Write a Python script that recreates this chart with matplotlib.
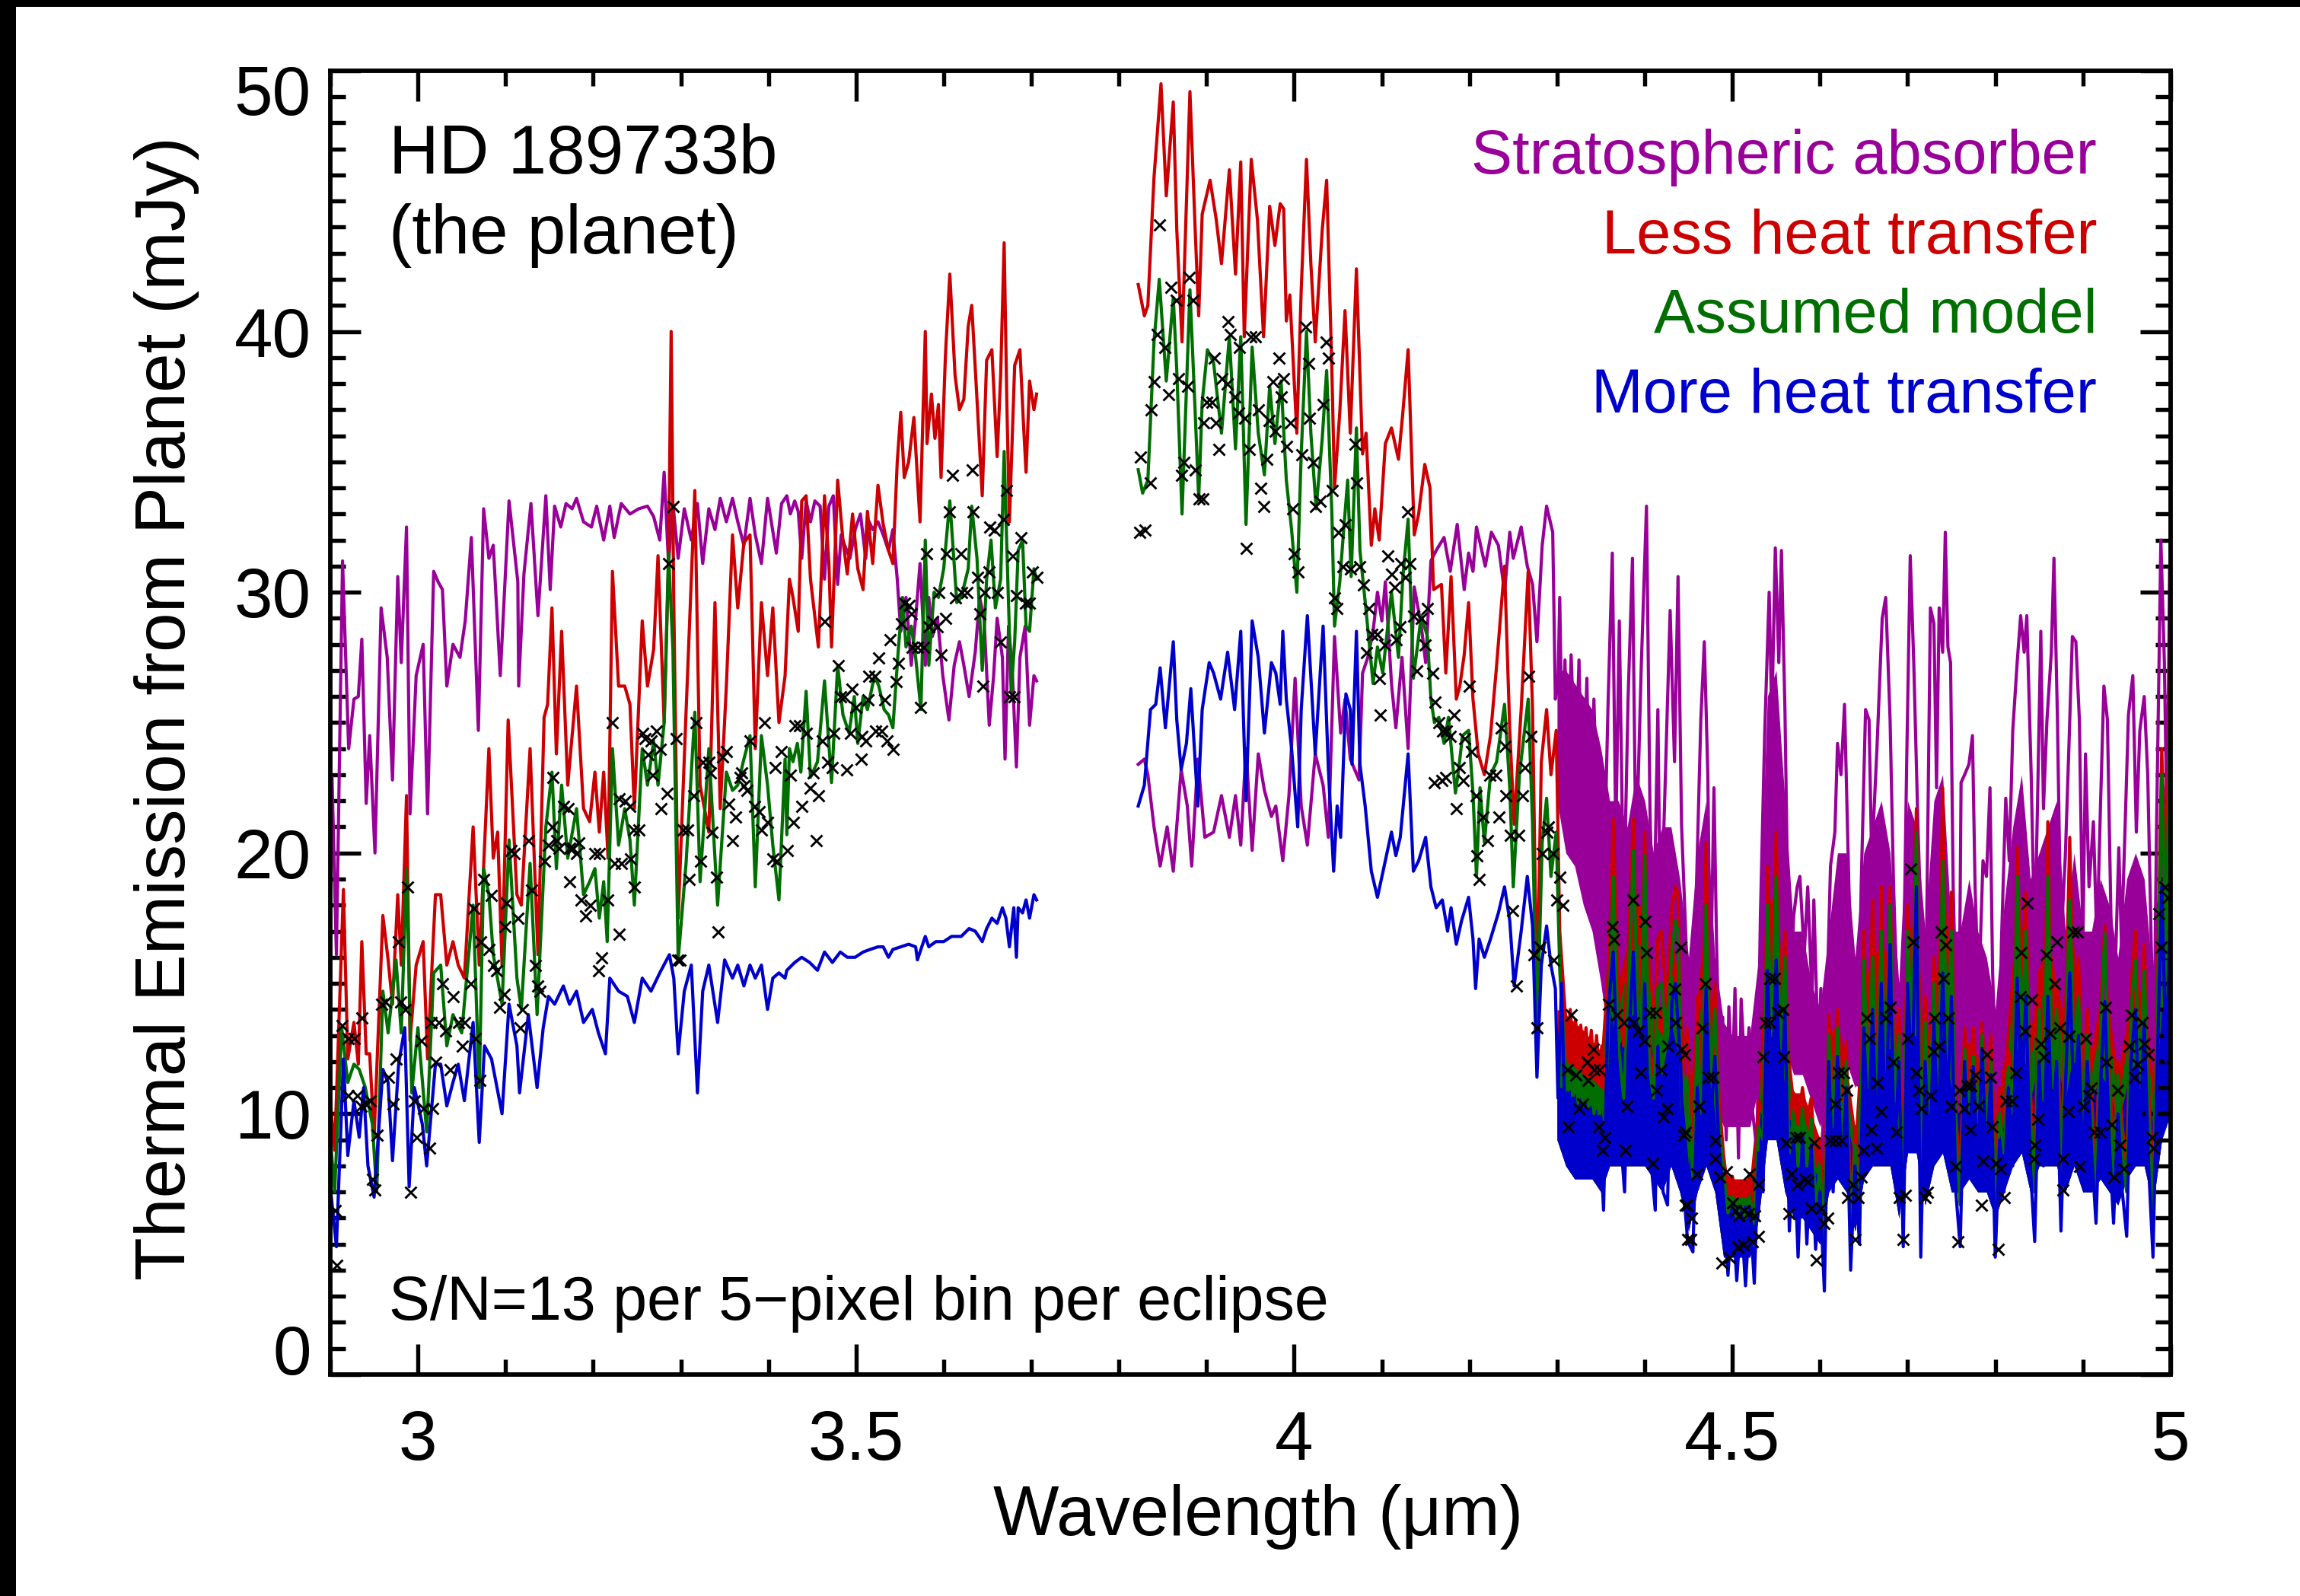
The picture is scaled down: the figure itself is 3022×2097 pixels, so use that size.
import matplotlib
matplotlib.use('Agg')
import matplotlib.pyplot as plt
import matplotlib.transforms as mtransforms
from matplotlib.patches import Rectangle
from matplotlib.ticker import MultipleLocator

plt.rcParams['font.family'] = ['Liberation Sans', 'DejaVu Sans']

# ---- model spectra: (wavelength um, flux mJy) ----
# short-wavelength segment (2.9 - 3.7 um)
strat_a = [(2.902,22.9),(2.907,16.1),(2.914,31.2),(2.921,24.0),(2.927,25.9),(2.932,26.0),(2.936,28.2),(2.941,21.9),
           (2.945,24.5),(2.951,20.0),(2.958,29.4),(2.965,27.5),(2.971,22.8),(2.977,30.6),(2.981,27.3),(2.987,32.5),
           (2.991,21.5),(2.998,26.8),(3.006,28.0),(3.011,21.5),(3.018,30.8),(3.023,30.4),(3.028,30.1),(3.033,26.4),
           (3.040,28.0),(3.048,27.5),(3.054,28.9),(3.061,32.1),(3.069,24.7),(3.075,33.2),(3.081,31.3),(3.086,31.8),
           (3.094,26.8),(3.104,33.5),(3.114,30.4),(3.115,26.4),(3.121,30.7),(3.129,33.4),(3.137,29.1),(3.146,33.7),
           (3.151,30.1),(3.156,33.3),(3.163,32.5),(3.169,33.4),(3.176,33.2),(3.181,33.6),(3.189,32.7),(3.198,32.5),
           (3.204,33.3),(3.212,32.0),(3.219,33.3),(3.224,32.1),(3.232,33.4),(3.242,33.0),(3.252,33.2),(3.262,33.3),
           (3.269,32.9),(3.276,32.0),(3.281,34.6),(3.286,31.1),(3.291,33.4),(3.297,31.3),(3.304,33.2),(3.312,32.0),
           (3.319,33.4),(3.325,31.1),(3.332,33.2),(3.339,32.4),(3.345,33.6),(3.352,32.7),(3.359,33.6),(3.365,32.7),
           (3.372,31.8),(3.379,33.6),(3.385,32.2),(3.392,31.1),(3.399,33.6),(3.409,31.5),(3.415,33.4),(3.421,33.7),
           (3.425,33.0),(3.430,33.5),(3.434,33.1),(3.438,31.3),(3.443,33.5),(3.448,32.7),(3.453,33.5),(3.459,33.3),
           (3.464,30.5),(3.469,33.3),(3.474,33.7),(3.479,30.3),(3.483,32.2),(3.487,31.8),(3.493,31.3),(3.499,32.4),
           (3.505,33.0),(3.511,31.3),(3.515,32.7),(3.519,32.4),(3.525,32.7),(3.531,32.2),(3.537,31.6),(3.542,32.4),
           (3.547,30.5),(3.551,28.5),(3.557,29.8),(3.563,27.2),(3.568,29.0),(3.573,31.1),(3.579,27.2),(3.583,29.8),
           (3.587,28.3),(3.593,29.0),(3.599,26.8),(3.606,25.1),(3.612,27.2),(3.618,28.1),(3.623,27.2),(3.629,26.0),
           (3.636,27.7),(3.641,29.8),(3.646,29.0),(3.652,24.9),(3.657,26.8),(3.661,29.0),(3.667,27.5),(3.670,23.6),
           (3.674,28.7),(3.678,27.2),(3.683,23.3),(3.687,27.5),(3.693,28.7),(3.698,24.9),(3.703,26.8),(3.706,26.6)]

less_a = [(2.900,10.5),(2.905,8.6),(2.915,18.6),(2.920,12.1),(2.927,13.5),(2.932,11.9),(2.936,16.6),(2.941,12.3),
          (2.945,12.3),(2.950,9.1),(2.960,17.6),(2.966,15.9),(2.971,14.2),(2.977,18.4),(2.981,15.7),(2.987,22.2),
          (2.991,12.8),(2.998,15.7),(3.006,16.6),(3.011,12.1),(3.020,18.4),(3.026,18.4),(3.033,15.7),(3.040,16.6),
          (3.046,15.7),(3.053,15.2),(3.063,21.0),(3.070,15.7),(3.081,24.0),(3.086,19.8),(3.091,20.8),(3.096,15.7),
          (3.103,25.1),(3.113,18.4),(3.118,18.0),(3.128,24.0),(3.137,16.1),(3.144,25.2),(3.148,25.7),(3.153,29.4),
          (3.158,23.8),(3.164,28.5),(3.171,22.6),(3.181,26.4),(3.189,21.7),(3.196,21.2),(3.202,23.1),(3.207,20.8),
          (3.212,23.1),(3.217,19.8),(3.222,30.8),(3.229,26.4),(3.236,26.4),(3.242,25.7),(3.247,21.7),(3.256,28.9),
          (3.262,26.4),(3.269,27.8),(3.274,31.4),(3.281,25.0),(3.286,31.1),(3.289,40.0),(3.292,29.6),(3.297,17.5),
          (3.306,25.4),(3.316,33.9),(3.322,22.6),(3.332,20.8),(3.339,29.6),(3.345,21.7),(3.352,26.4),(3.359,32.2),
          (3.365,29.4),(3.372,31.9),(3.379,32.2),(3.385,24.0),(3.392,29.6),(3.399,26.8),(3.405,29.4),(3.412,25.0),
          (3.419,26.8),(3.424,30.5),(3.428,29.8),(3.434,28.5),(3.438,33.5),(3.443,33.7),(3.448,30.5),(3.457,27.9),
          (3.464,33.7),(3.469,31.1),(3.472,27.9),(3.479,34.3),(3.485,32.0),(3.490,30.7),(3.496,33.0),(3.502,30.9),
          (3.508,30.1),(3.513,33.1),(3.519,31.1),(3.525,34.1),(3.531,32.6),(3.537,31.6),(3.542,31.1),(3.547,35.0),
          (3.551,36.9),(3.555,34.4),(3.560,35.0),(3.566,36.7),(3.573,32.7),(3.579,40.0),(3.581,35.7),(3.586,37.6),
          (3.590,35.9),(3.594,37.2),(3.597,34.4),(3.602,39.1),(3.607,42.2),(3.613,38.3),(3.618,37.0),(3.623,37.4),
          (3.628,40.2),(3.632,41.0),(3.638,37.4),(3.644,33.7),(3.649,38.9),(3.655,39.3),(3.661,35.2),(3.665,38.3),
          (3.669,43.4),(3.672,37.4),(3.675,32.7),(3.681,38.7),(3.687,39.3),(3.691,36.5),(3.694,34.6),(3.698,38.1),
          (3.703,37.0),(3.706,37.6)]

assumed_a = [(2.900,9.1),(2.905,7.0),(2.913,13.3),(2.920,11.2),(2.927,11.9),(2.933,11.7),(2.940,11.0),(2.948,9.6),
             (2.953,7.0),(2.960,14.7),(2.966,13.1),(2.975,15.9),(2.981,13.1),(2.987,19.4),(2.993,10.8),(3.000,13.3),
             (3.010,9.3),(3.018,15.4),(3.026,15.7),(3.033,12.6),(3.040,13.8),(3.050,13.1),(3.063,18.0),(3.070,11.0),
             (3.075,19.4),(3.081,18.4),(3.086,16.1),(3.096,14.2),(3.104,20.5),(3.113,15.2),(3.118,14.0),(3.128,19.6),
             (3.136,13.8),(3.146,21.0),(3.153,23.1),(3.158,19.4),(3.164,22.6),(3.171,19.8),(3.181,21.7),(3.189,18.4),
             (3.196,18.9),(3.202,19.4),(3.207,17.5),(3.212,18.9),(3.216,16.6),(3.222,24.0),(3.229,20.3),(3.236,21.7),
             (3.242,20.5),(3.247,18.0),(3.256,24.0),(3.262,22.6),(3.269,24.3),(3.274,22.6),(3.281,25.0),(3.286,31.5),
             (3.291,27.8),(3.297,15.9),(3.306,19.6),(3.316,25.4),(3.322,18.9),(3.332,24.0),(3.342,18.0),(3.352,23.1),
             (3.359,22.4),(3.365,22.6),(3.372,23.6),(3.379,24.5),(3.385,18.7),(3.392,24.5),(3.399,22.6),(3.405,20.3),
             (3.412,18.2),(3.419,23.6),(3.421,20.7),(3.424,24.0),(3.428,23.5),(3.433,24.2),(3.437,23.1),(3.443,26.2),
             (3.448,22.9),(3.456,23.5),(3.464,26.6),(3.472,22.7),(3.479,27.2),(3.485,25.3),(3.492,24.6),(3.498,26.0),
             (3.502,24.2),(3.508,26.0),(3.513,25.5),(3.521,26.8),(3.526,26.4),(3.532,25.5),(3.537,25.3),(3.542,24.8),
             (3.548,27.7),(3.553,29.8),(3.557,27.9),(3.563,28.7),(3.568,27.5),(3.574,25.5),(3.579,32.0),(3.583,27.2),
             (3.589,30.0),(3.594,29.8),(3.600,30.9),(3.607,33.5),(3.615,29.6),(3.620,29.8),(3.628,30.9),(3.632,33.3),
             (3.638,31.3),(3.644,27.0),(3.649,30.5),(3.654,32.0),(3.659,29.4),(3.665,30.5),(3.669,35.4),(3.672,31.8),
             (3.677,26.2),(3.681,28.1),(3.685,31.6),(3.690,32.0),(3.694,28.7),(3.698,28.5),(3.703,30.9),(3.706,30.5)]

more_a = [(2.900,7.2),(2.907,4.9),(2.915,12.1),(2.920,8.4),(2.927,10.5),(2.933,9.1),(2.938,11.0),(2.943,8.0),
          (2.950,6.8),(2.960,11.7),(2.966,11.2),(2.971,8.2),(2.978,11.9),(2.985,13.3),(2.990,7.2),(2.996,11.0),
          (3.005,9.6),(3.010,8.0),(3.020,11.9),(3.026,11.9),(3.033,10.3),(3.040,11.2),(3.046,11.9),(3.053,10.5),
          (3.063,13.5),(3.070,8.9),(3.076,12.6),(3.084,12.1),(3.096,10.0),(3.104,14.2),(3.113,12.6),(3.116,10.8),
          (3.126,13.8),(3.136,11.0),(3.143,13.3),(3.149,14.5),(3.156,14.2),(3.166,14.9),(3.173,14.2),(3.181,14.7),
          (3.189,13.5),(3.199,14.0),(3.206,13.1),(3.214,12.3),(3.219,15.2),(3.229,14.7),(3.239,14.5),(3.247,13.5),
          (3.256,15.2),(3.266,14.7),(3.276,15.4),(3.287,16.1),(3.292,15.2),(3.297,12.3),(3.304,14.7),(3.312,15.7),
          (3.319,10.8),(3.325,14.7),(3.332,15.7),(3.342,13.5),(3.350,15.9),(3.359,15.2),(3.365,15.7),(3.372,14.9),
          (3.379,15.7),(3.385,15.2),(3.392,15.7),(3.399,14.0),(3.405,15.2),(3.412,15.4),(3.419,15.2),(3.421,15.5),
          (3.430,15.8),(3.438,16.0),(3.447,15.8),(3.456,15.5),(3.464,16.2),(3.473,15.8),(3.482,16.2),(3.490,16.0),
          (3.499,16.0),(3.508,16.2),(3.516,16.3),(3.525,16.4),(3.531,16.4),(3.537,16.0),(3.542,16.3),(3.551,16.4),
          (3.560,16.5),(3.568,16.4),(3.570,15.9),(3.579,16.8),(3.583,16.4),(3.591,16.6),(3.600,16.6),(3.609,16.8),
          (3.620,16.8),(3.629,17.1),(3.636,17.0),(3.644,16.6),(3.649,17.1),(3.655,17.5),(3.661,17.3),(3.667,17.9),
          (3.671,17.5),(3.675,16.4),(3.680,17.9),(3.683,16.0),(3.685,17.9),(3.690,17.7),(3.694,18.2),(3.698,17.5),
          (3.703,18.4),(3.706,18.2)]

# long-wavelength segment (3.82 - 5.0 um)
strat_b = [(3.822,23.4),(3.829,23.6),(3.833,23.0),(3.840,21.0),(3.847,19.5),(3.855,21.0),(3.862,19.3),(3.871,23.2),
           (3.878,21.8),(3.883,19.5),(3.890,23.6),(3.898,20.6),(3.908,20.8),(3.917,22.2),(3.926,20.6),(3.933,22.2),
           (3.939,20.3),(3.945,24.0),(3.952,20.1),(3.959,23.8),(3.966,22.4),(3.974,21.4),(3.979,21.8),(3.987,19.7),
           (3.994,22.2),(4.001,26.7),(4.008,21.8),(4.015,20.3),(4.024,23.8),(4.033,22.6),(4.039,20.6),(4.046,28.3),
           (4.053,24.6),(4.058,25.9),(4.064,23.6),(4.069,23.2),(4.074,22.8),(4.078,26.9),(4.084,27.5),(4.090,28.5),
           (4.095,30.0),(4.100,28.9),(4.104,30.4),(4.111,26.5),(4.116,24.8),(4.123,27.5),(4.130,24.0),(4.137,30.2),
           (4.145,28.7),(4.150,27.3),(4.156,31.2),(4.162,31.6),(4.171,32.1),(4.178,30.8),(4.186,32.6),(4.194,30.1),
           (4.199,31.5),(4.204,30.8),(4.208,32.5),(4.218,31.0),(4.225,32.3),(4.233,31.8),(4.240,30.0),(4.246,32.3),
           (4.250,31.3),(4.259,32.5),(4.266,31.0),(4.272,30.3),(4.277,28.1),(4.283,31.8),(4.288,33.3),(4.295,32.3),
           (4.298,25.9),(4.301,26.4),(4.303,29.8),(4.306,23.5),(4.309,27.4),(4.312,22.3),(4.316,27.6),(4.321,23.0),
           (4.325,27.4),(4.329,21.1),(4.334,26.7),(4.338,19.1),(4.342,25.9),(4.347,19.6),(4.353,18.2),(4.358,25.5),
           (4.363,31.5),(4.367,20.6),(4.371,28.9),(4.376,17.7),(4.381,25.9),(4.386,31.3),(4.390,19.6),(4.396,27.1),
           (4.402,33.3),(4.406,21.6),(4.410,16.2),(4.415,25.5),(4.418,16.7),(4.423,22.3),(4.429,29.3),(4.434,23.5),
           (4.438,30.6),(4.442,21.1),(4.447,16.7),(4.450,10.1),(4.455,15.0),(4.459,18.7),(4.464,25.1),(4.468,28.1),
           (4.472,23.0),(4.475,14.4),(4.479,22.5),(4.482,16.5),(4.485,12.2),(4.489,13.7),(4.493,9.0),(4.496,14.1),
           (4.500,11.1),(4.503,14.8),(4.507,8.3),(4.510,14.4),(4.515,11.1),(4.519,13.3),(4.523,10.1),(4.528,8.6),
           (4.532,17.6),(4.537,24.7),(4.542,30.0),(4.545,25.1),(4.549,31.7),(4.553,27.3),(4.556,31.6),(4.560,25.5),
           (4.563,18.7),(4.566,14.4),(4.570,17.6),(4.574,18.7),(4.577,19.1),(4.582,16.1),(4.586,18.7),(4.591,14.4),
           (4.593,18.2),(4.598,12.2),(4.601,14.8),(4.604,7.9),(4.608,14.4),(4.612,19.5),(4.617,20.8),(4.620,24.2),
           (4.624,23.0),(4.628,25.7),(4.633,18.7),(4.637,14.4),(4.643,11.1),(4.647,18.7),(4.652,25.5),(4.656,25.1),
           (4.659,19.7),(4.665,24.0),(4.671,29.0),(4.675,29.8),(4.680,25.1),(4.684,18.7),(4.688,14.4),(4.693,10.1),
           (4.699,23.6),(4.703,31.4),(4.707,27.3),(4.712,20.8),(4.716,16.5),(4.720,12.2),(4.726,29.4),(4.730,28.8),
           (4.733,22.5),(4.736,29.4),(4.740,27.7),(4.743,32.3),(4.746,27.9),(4.749,27.3),(4.752,18.7),(4.755,14.4),
           (4.758,10.1),(4.761,22.7),(4.765,23.0),(4.770,23.4),(4.774,24.5),(4.777,18.7),(4.781,14.4),(4.786,19.7),
           (4.790,19.1),(4.794,22.5),(4.797,15.4),(4.800,12.2),(4.804,9.6),(4.807,16.5),(4.812,22.1),(4.816,19.7),
           (4.820,24.7),(4.825,27.3),(4.829,29.1),(4.833,27.7),(4.836,29.1),(4.841,23.0),(4.845,16.5),(4.848,21.5),
           (4.852,28.5),(4.855,21.7),(4.859,25.1),(4.864,27.7),(4.867,31.3),(4.871,25.1),(4.875,16.5),(4.880,19.9),
           (4.884,24.0),(4.888,28.3),(4.892,28.1),(4.896,25.1),(4.900,16.5),(4.903,23.8),(4.907,18.7),(4.912,21.2),
           (4.916,16.5),(4.920,21.7),(4.924,26.4),(4.928,25.1),(4.932,17.6),(4.936,14.4),(4.941,20.2),(4.944,16.5),
           (4.948,20.8),(4.952,25.3),(4.957,26.8),(4.961,20.8),(4.965,24.7),(4.970,26.0),(4.974,23.0),(4.978,16.5),
           (4.981,12.2),(4.984,20.8),(4.989,32.0),(4.993,27.3),(4.996,20.8),(4.999,31.0)]

less_b = [(3.822,41.8),(3.829,40.6),(3.833,41.0),(3.840,45.9),(3.848,49.5),(3.854,45.2),(3.862,48.8),(3.866,43.9),
          (3.872,39.6),(3.881,49.2),(3.887,43.9),(3.891,40.6),(3.895,44.5),(3.904,45.8),(3.911,44.3),(3.917,42.6),
          (3.926,46.2),(3.933,42.2),(3.939,46.5),(3.943,39.8),(3.951,46.6),(3.958,44.3),(3.965,39.8),(3.972,44.8),
          (3.978,43.3),(3.984,44.9),(3.988,44.7),(3.991,40.4),(3.995,41.4),(4.003,36.1),(4.008,41.6),(4.014,46.6),
          (4.019,42.6),(4.024,39.6),(4.032,43.9),(4.037,45.8),(4.043,38.5),(4.046,34.0),(4.052,36.9),(4.058,40.8),
          (4.064,36.1),(4.071,42.4),(4.078,35.3),(4.082,36.1),(4.088,31.8),(4.092,33.2),(4.097,32.0),(4.104,35.7),
          (4.111,36.3),(4.119,35.1),(4.124,36.9),(4.130,39.3),(4.137,32.2),(4.142,33.0),(4.149,34.9),(4.155,34.0),
          (4.159,30.1),(4.168,30.3),(4.173,26.9),(4.179,30.6),(4.185,25.9),(4.189,26.4),(4.194,27.6),(4.199,29.6),
          (4.204,25.9),(4.210,23.8),(4.217,23.0),(4.224,24.5),(4.231,27.2),(4.240,31.0),(4.246,24.7),(4.251,21.1),
          (4.259,25.5),(4.267,30.8),(4.272,25.5),(4.277,14.3),(4.282,23.5),(4.288,25.5),(4.293,23.0),(4.299,24.7),
          (4.303,17.0),(4.309,14.0),(4.312,12.8),(4.315,14.0),(4.318,12.6),(4.321,13.6),(4.324,12.4),(4.327,13.4),
          (4.330,12.2),(4.333,13.3),(4.336,12.0),(4.339,13.2),(4.342,11.8),(4.345,13.0),(4.348,11.6),(4.351,12.6),
          (4.354,10.2),(4.358,14.3),(4.364,21.3),(4.370,14.3),(4.376,12.6),(4.381,16.2),(4.387,21.3),(4.392,14.3),
          (4.396,15.0),(4.400,20.8),(4.405,12.6),(4.410,11.4),(4.415,16.7),(4.419,17.0),(4.425,14.3),(4.431,17.9),
          (4.435,18.7),(4.438,18.4),(4.442,11.4),(4.448,13.3)]

assumed_b = [(3.822,34.7),(3.827,33.8),(3.833,34.3),(3.840,39.6),(3.846,42.0),(3.854,38.1),(3.862,41.3),(3.866,38.5),
             (3.872,33.0),(3.881,41.6),(3.887,36.9),(3.891,33.6),(3.895,37.3),(3.901,39.3),(3.908,38.8),(3.917,36.1),
             (3.926,39.8),(3.933,35.5),(3.939,39.8),(3.945,32.6),(3.952,39.4),(3.959,36.1),(3.966,34.5),(3.972,37.9),
             (3.978,35.7),(3.985,38.1),(3.991,34.3),(3.997,32.4),(4.003,30.0),(4.008,35.3),(4.014,40.0),(4.019,36.1),
             (4.025,33.2),(4.032,35.9),(4.037,38.5),(4.043,33.0),(4.046,28.7),(4.052,30.4),(4.056,32.2),(4.061,34.3),
             (4.065,30.6),(4.071,36.3),(4.075,31.6),(4.082,29.3),(4.090,26.5),(4.095,27.9),(4.101,26.9),(4.111,30.0),
             (4.119,27.5),(4.124,30.6),(4.130,32.8),(4.136,26.7),(4.145,29.1),(4.152,28.3),(4.156,25.9),(4.160,25.0),
             (4.165,25.2),(4.171,24.2),(4.176,25.2),(4.184,22.3),(4.188,23.3),(4.192,24.5),(4.199,24.7),(4.204,22.3),
             (4.208,19.1),(4.212,22.5),(4.217,20.4),(4.224,23.0),(4.231,23.5),(4.240,25.7),(4.246,22.5),(4.250,18.7),
             (4.257,23.0),(4.267,25.9),(4.272,21.1),(4.277,12.8),(4.283,20.4),(4.288,22.1),(4.293,19.1),(4.299,20.8),
             (4.303,15.5),(4.309,12.1),(4.312,10.8),(4.315,11.8),(4.318,10.6),(4.321,11.6),(4.324,10.4),(4.327,11.4),
             (4.330,10.3),(4.333,11.3),(4.336,10.2),(4.339,11.2),(4.342,10.0),(4.345,11.0),(4.348,9.9),(4.351,10.9),
             (4.354,9.7),(4.358,12.6),(4.364,19.1),(4.370,12.6),(4.376,10.6),(4.381,14.3),(4.387,20.1),(4.392,13.8),
             (4.396,13.3),(4.400,19.9),(4.405,11.9),(4.410,10.6),(4.415,14.8),(4.419,15.0),(4.425,12.8),(4.431,16.2),
             (4.435,17.4),(4.438,17.0),(4.442,10.2),(4.448,11.4)]

more_b = [(3.822,21.8),(3.829,22.6),(3.836,25.5),(3.842,25.7),(3.847,27.1),(3.853,24.8),(3.862,28.1),(3.866,25.1),
          (3.871,23.2),(3.877,24.2),(3.882,26.3),(3.890,21.8),(3.895,25.5),(3.903,27.3),(3.908,26.9),(3.916,25.9),
          (3.924,27.7),(3.932,25.5),(3.939,28.5),(3.945,22.0),(3.952,28.9),(3.959,27.5),(3.966,24.6),(3.974,27.3),
          (3.979,26.9),(3.984,25.7),(3.987,28.5),(3.991,25.9),(3.997,24.0),(4.004,21.0),(4.008,25.5),(4.015,29.1),
          (4.024,23.8),(4.033,28.7),(4.039,23.2),(4.045,19.3),(4.049,21.8),(4.053,20.6),(4.059,26.1),(4.064,25.5),
          (4.066,23.4),(4.071,28.5),(4.075,23.4),(4.081,21.8),(4.088,19.3),(4.095,18.3),(4.104,19.7),(4.111,20.8),
          (4.116,19.9),(4.121,20.6),(4.130,23.8),(4.136,19.3),(4.142,19.7),(4.150,20.6),(4.156,18.7),(4.162,17.9),
          (4.169,18.2),(4.175,17.0),(4.179,17.9),(4.185,16.5),(4.191,17.4),(4.199,18.3),(4.204,16.7),(4.207,14.8),
          (4.211,16.7),(4.217,16.0),(4.224,16.7),(4.233,17.7),(4.240,18.7),(4.246,17.4),(4.251,14.9),(4.259,17.0),
          (4.266,19.1),(4.272,17.2),(4.277,11.4),(4.282,15.7),(4.288,17.2),(4.293,15.7),(4.298,14.8),(4.301,10.6),
          (4.305,15.0),(4.309,9.7),(4.312,10.8),(4.314,8.5),(4.318,10.6),(4.322,8.2),(4.327,10.4),(4.332,7.7),
          (4.338,10.2),(4.344,7.5),(4.348,9.9),(4.353,6.3),(4.358,13.8),(4.364,16.2),(4.370,10.2),(4.377,7.0),
          (4.381,12.3),(4.387,16.2),(4.392,11.4),(4.396,10.2),(4.400,15.0),(4.405,9.0),(4.412,6.3),(4.415,12.6),
          (4.421,7.0),(4.426,6.5),(4.431,14.3),(4.435,15.0),(4.441,11.9),(4.445,6.8),(4.449,5.1)]

# CO band region, line peaks/troughs: wavelength, more heat, assumed, less heat
band_rows = [(4.455,4.7,7.5,8.5),(4.460,11.0,13.0,14.5),(4.465,8.0,10.0,11.0),(4.470,14.8,18.0,20.4),
             (4.475,9.5,11.0,12.0),(4.480,12.2,14.0,15.0),(4.485,8.6,9.5,10.5),(4.490,6.8,7.8,8.4),
             (4.495,3.8,6.2,7.0),(4.500,6.5,6.8,7.6),(4.505,3.6,6.0,6.8),(4.510,6.2,6.6,7.4),
             (4.515,3.4,6.0,6.9),(4.520,6.4,6.8,7.7),(4.525,3.5,5.8,6.5),(4.530,8.5,9.5,10.5),
             (4.535,7.0,9.0,10.0),(4.540,15.5,18.0,19.5),(4.545,10.5,13.0,14.0),(4.550,15.9,19.1,20.8),
             (4.555,10.0,12.5,13.5),(4.560,14.0,16.0,17.0),(4.565,5.5,8.5,9.8),(4.570,9.0,10.0,10.8),
             (4.575,4.5,8.0,9.6),(4.580,9.2,10.2,11.0),(4.585,5.0,8.0,9.8),(4.590,8.8,9.8,10.6),
             (4.595,4.8,6.5,8.0),(4.600,7.0,8.0,9.0),(4.605,3.2,5.0,6.0),(4.610,12.0,13.0,13.8),
             (4.615,7.0,9.5,10.5),(4.620,12.2,13.3,14.0),(4.625,7.5,9.0,10.0),(4.630,11.0,12.0,12.8),
             (4.635,4.0,5.0,6.0),(4.640,8.0,8.8,9.5),(4.645,5.0,6.5,7.5),(4.650,13.3,15.9,17.0),
             (4.655,9.0,11.0,12.0),(4.660,14.0,16.0,18.2),(4.665,8.5,10.0,11.0),(4.670,15.0,17.0,18.7),
             (4.675,9.0,11.0,12.0),(4.680,16.5,18.0,18.7),(4.685,8.0,10.5,11.5),(4.690,12.0,13.0,14.0),
             (4.695,4.9,6.5,7.5),(4.700,15.0,17.0,18.0),(4.705,11.0,13.0,14.0),(4.710,18.7,20.8,21.7),
             (4.715,4.5,7.5,9.0),(4.720,12.0,13.5,14.5),(4.725,8.0,10.0,11.0),(4.730,13.5,15.0,16.0),
             (4.735,9.0,11.0,12.0),(4.740,15.4,19.7,22.5),(4.745,10.0,12.5,14.0),(4.750,14.5,17.0,18.5),
             (4.755,7.0,9.0,10.0),(4.760,4.9,6.5,7.5),(4.765,12.0,12.5,13.3),(4.770,8.5,10.0,11.0),
             (4.775,11.8,12.2,13.3),(4.780,8.0,9.5,10.5),(4.785,12.5,13.0,13.5),(4.790,8.0,9.5,10.5),
             (4.795,11.5,12.0,13.0),(4.800,4.5,6.0,7.5),(4.805,9.0,10.0,11.0),(4.810,7.0,8.5,9.5),
             (4.815,11.0,11.8,12.5),(4.820,8.0,10.0,11.0),(4.825,15.2,19.1,20.2),(4.830,10.5,13.0,14.5),
             (4.835,14.5,17.0,18.5),(4.840,8.0,10.0,11.0),(4.845,5.1,7.0,8.0),(4.850,12.0,14.0,15.5),
             (4.855,8.0,10.5,11.5),(4.860,14.5,19.1,21.2),(4.865,9.0,11.0,12.0),(4.870,12.0,14.0,15.0),
             (4.875,5.5,7.0,8.0),(4.880,11.0,12.5,13.5),(4.885,15.4,18.2,20.6),(4.890,10.0,12.0,13.0),
             (4.895,13.0,14.5,16.0),(4.900,8.0,9.5,10.5),(4.905,12.0,13.0,14.0),(4.910,8.5,9.5,10.5),
             (4.915,5.8,7.0,8.0),(4.920,11.0,13.0,14.0),(4.925,14.3,16.9,17.2),(4.930,9.0,11.0,12.0),
             (4.935,5.8,7.5,8.5),(4.940,10.0,11.5,12.0),(4.945,7.0,8.5,9.5),(4.950,5.3,7.0,8.0),
             (4.955,12.0,14.0,15.0),(4.960,14.0,15.9,17.0),(4.965,9.0,11.0,12.0),(4.970,13.5,15.5,16.5),
             (4.975,8.0,10.0,11.0),(4.980,4.5,6.0,7.0),(4.985,12.0,14.0,15.0),(4.990,18.7,23.0,24.0),
             (4.995,12.0,16.0,18.0),(5.000,18.0,27.0,29.0)]

# where the lines are too dense to resolve they form solid bands:
# wavelength, stratospheric low/high, more-heat low/high, assumed high, less-heat high
band_core = [(4.30,22,27,9,11,12.5,14),(4.31,20,27,8,11,12,13.8),(4.32,19.5,26.5,7.5,10.8,11.8,13.5),
             (4.33,18,26,7.5,10.5,11.5,13.2),(4.34,17,25.5,7.5,10.3,11.3,12.8),(4.35,15,24,7,10,11,12.4),
             (4.36,12.5,22,8,14,16,17.5),(4.37,12,22,8,12.5,14,15),(4.38,12.5,21,8,13.5,15.5,16.5),
             (4.39,12.5,23,8,14,16.5,18),(4.40,12,22,8,14,16.5,18),(4.41,11.5,20,7.5,12,13.5,14.5),
             (4.42,12,21,7,11.5,13,14),(4.43,11,21,8,13.5,15.5,17),(4.44,10,19,7,12,14,15),
             (4.45,10.5,16,5.5,8,9,10),(4.46,10,20,7,11,13,14.5),(4.47,11,22,8,13,16,18),
             (4.48,10.5,16,7,10,11.5,12.5),(4.49,9.5,13.5,4.5,6.5,7,7.8),(4.50,9.5,13,4.5,6.5,6.8,7.5),
             (4.51,9.5,13,4.5,6.5,6.8,7.5),(4.52,9.5,13,4.5,6.5,6.8,7.5),(4.53,11,16,6,9,10,11),
             (4.54,14,26,9,14,16.5,18),(4.55,14,27,9,14,17,18.5),(4.56,12.5,22,7,11,13,14),
             (4.57,11.5,17,6,9,10,10.8),(4.58,11.5,17,6,9,10,10.8),(4.59,10.5,15,5.5,8,9,10),
             (4.60,9.5,14,5,7.5,8,9),(4.61,11,17,7,10.5,12,13),(4.62,13,20,7.5,11,12.5,13.5),
             (4.63,12,20,7,10,11,12),(4.64,11,16,5.5,8,8.8,9.5),(4.65,12,20,7.5,11,13.5,15),
             (4.66,13,21,8,12,14,16),(4.67,13,22,8,12.5,15,16.5),(4.68,12,20,8,12.5,15,16),
             (4.69,11,15,6,9,10,11),(4.70,12,22,8.5,13,15.5,17),(4.71,12,21,8.5,13,16,17.5),
             (4.72,11,17,6.5,10,11.5,12.5),(4.73,13,22,8,12,13.5,14.5),(4.74,13,23,8.5,13,16.5,18.5),
             (4.75,11.5,17,7,11,13,14.5),(4.76,11,17,7,10,11,12),(4.77,12,19,7.5,11,11.8,12.8),
             (4.78,11,17,7,10.5,11.3,12.2),(4.79,11,16,7,10,10.8,11.8),(4.80,10,14,6,9,9.8,10.8),
             (4.81,11,18,7,10,11,12),(4.82,12.5,21,8,12,14.5,16),(4.83,13,23,8.5,13,16,17.5),
             (4.84,12,19,7,10.5,12,13),(4.85,12,20,8,12,14,15.5),(4.86,12.5,21,8,12.5,15.5,17),
             (4.87,12.5,22,8,12,14,15),(4.88,11.5,17,7,10.5,12,13.5),(4.89,12,20,8,12.5,15,16.5),
             (4.90,11.5,17,7,10.5,11.5,12.5),(4.91,11,17,7,10.5,11.5,12.5),(4.92,11.5,19,7.5,11.5,13.5,14.5),
             (4.93,11,18,7,11,13,14),(4.94,10.5,16,6.5,9.5,10.5,11.5),(4.95,12,19,7.5,11,12.5,13.5),
             (4.96,12,20,8,12,14,15),(4.97,12,19,8,12,13.5,14.5),(4.98,10,15,6.5,9.5,10.5,11.5),
             (4.99,13,22,9,14,17,18),(5.00,14,24,10,15,19,21)]

# simulated observations (x marks)
obs = [(2.907,4.2),(2.905,6.3),(2.913,13.4),(2.920,12.9),(2.927,12.9),(2.920,10.7),(2.930,10.7),(2.935,10.3),
       (2.940,10.4),(2.945,10.5),(2.936,13.7),(2.948,7.5),(2.950,7.1),(2.953,9.2),(2.958,14.2),(2.963,14.3),
       (2.971,10.4),(2.975,12.1),(2.966,11.4),(2.977,16.6),(2.980,14.3),(2.985,14.0),(2.988,18.7),(2.991,7.0),
       (2.996,10.5),(2.998,9.1),(3.003,12.8),(3.006,10.2),(3.013,8.7),(3.016,10.2),(3.015,13.5),(3.020,12.0),
       (3.023,13.5),(3.028,15.0),(3.031,13.2),(3.036,11.7),(3.040,14.5),(3.046,13.5),(3.053,13.5),(3.050,12.6),
       (3.060,15.0),(3.063,17.9),(3.065,12.9),(3.070,11.3),(3.071,16.6),(3.075,19.0),(3.083,18.4),(3.081,16.3),
       (3.086,15.7),(3.089,15.5),(3.093,14.1),(3.098,14.6),(3.099,17.2),(3.101,18.1),(3.106,20.1),(3.109,20.0),
       (3.114,17.5),(3.116,13.3),(3.119,14.0),(3.126,20.5),(3.129,18.6),(3.134,15.7),(3.136,14.9),(3.139,14.7),
       (3.144,19.7),(3.148,20.3),(3.153,21.0),(3.154,22.9),(3.158,20.5),(3.161,20.2),(3.166,21.8),(3.171,21.7),
       (3.173,20.2),(3.176,20.2),(3.183,20.4),(3.181,20.0),(3.173,18.9),(3.186,18.2),(3.191,17.6),(3.196,18.0),
       (3.201,20.0),(3.207,20.0),(3.216,18.2),(3.209,16.0),(3.206,15.5),(3.221,25.0),(3.224,19.6),(3.229,16.9),
       (3.229,22.1),(3.232,19.6),(3.236,22.0),(3.241,21.8),(3.242,19.8),(3.246,20.9),(3.247,18.7),(3.252,20.9),
       (3.256,24.6),(3.259,24.4),(3.262,23.8),(3.266,24.3),(3.267,23.0),(3.272,24.7),(3.276,24.0),(3.277,21.7),
       (3.284,22.3),(3.286,31.1),(3.291,33.3),(3.294,24.4),(3.296,15.9),(3.299,15.9),(3.302,20.9),(3.307,20.9),
       (3.309,19.0),(3.314,22.2),(3.317,25.0),(3.322,19.7),(3.325,23.5),(3.332,23.5),(3.333,23.1),(3.335,20.8),
       (3.340,19.1),(3.342,17.0),(3.347,23.7),(3.352,23.9),(3.354,21.9),(3.359,20.5),(3.362,21.4),(3.367,22.9),
       (3.369,23.1),(3.372,22.6),(3.375,22.4),(3.379,24.3),(3.384,21.8),(3.389,21.6),(3.392,20.9),(3.395,25.0),
       (3.399,21.2),(3.405,19.8),(3.407,23.3),(3.409,19.7),(3.414,23.9),
       (3.421,20.1),(3.428,21.2),(3.438,21.8),(3.447,22.5),(3.454,20.5),(3.457,22.2),(3.451,23.1),(3.425,23.0),
       (3.430,24.9),(3.435,24.9),(3.443,24.6),(3.461,24.3),(3.464,28.9),(3.467,23.5),(3.472,23.3),(3.474,24.6),
       (3.479,27.2),(3.482,26.0),(3.486,26.0),(3.489,23.2),(3.495,26.3),(3.499,25.6),(3.493,24.6),(3.506,24.5),
       (3.505,23.6),(3.511,24.3),(3.513,25.9),(3.514,26.8),(3.521,26.8),(3.522,24.7),(3.525,27.5),(3.529,24.7),
       (3.532,25.9),(3.535,24.3),(3.538,28.2),(3.542,24.0),(3.545,26.6),(3.548,27.3),(3.551,28.8),(3.555,29.6),
       (3.560,29.5),(3.563,29.2),(3.564,27.9),(3.570,27.9),(3.573,25.6),(3.577,27.9),(3.580,31.5),(3.583,28.7),
       (3.587,28.9),(3.592,28.7),(3.594,30.0),(3.597,27.6),(3.602,29.0),(3.606,33.1),(3.610,34.5),(3.603,31.5),
       (3.613,29.8),(3.619,31.5),(3.620,30.0),(3.626,30.0),(3.632,34.7),(3.633,33.1),(3.638,30.6),(3.641,29.2),
       (3.644,26.4),(3.646,30.0),(3.651,30.8),(3.652,32.5),(3.657,32.4),(3.661,30.0),(3.664,28.1),(3.668,32.8),
       (3.671,33.9),(3.675,26.0),(3.680,26.0),(3.678,31.4),(3.683,29.9),(3.688,32.1),(3.693,29.6),(3.697,29.6),
       (3.701,30.8),(3.706,30.6),
       (3.823,32.3),(3.829,32.4),(3.824,35.2),(3.835,34.2),(3.836,37.0),(3.840,38.1),(3.843,39.9),(3.846,44.1),
       (3.852,39.4),(3.856,37.6),(3.859,41.7),(3.865,41.2),(3.868,38.2),(3.871,34.5),(3.874,35.0),(3.878,37.9),
       (3.880,42.1),(3.884,41.2),(3.887,34.7),(3.891,33.6),(3.895,33.6),(3.896,36.5),(3.900,37.3),(3.906,37.3),
       (3.908,39.0),(3.910,36.5),(3.914,35.5),(3.917,38.2),(3.923,38.0),(3.924,40.4),(3.927,39.9),(3.932,37.5),
       (3.936,36.9),(3.937,39.4),(3.943,36.7),(3.945,31.7),(3.948,35.5),(3.950,39.8),(3.955,39.8),(3.959,37.0),
       (3.961,34.0),(3.965,33.3),(3.968,35.1),(3.971,36.6),(3.975,38.1),(3.978,36.2),(3.982,39.0),(3.987,38.2),
       (3.985,37.5),(3.991,35.6),(3.995,36.5),(3.998,33.2),(4.000,31.5),(4.004,30.8),(4.008,35.3),(4.013,40.2),
       (4.016,38.8),(4.017,36.7),(4.021,35.0),(4.024,33.3),(4.029,33.5),(4.033,37.2),(4.036,39.6),(4.039,39.0),
       (4.043,33.9),(4.046,29.8),(4.048,29.4),(4.050,32.3),(4.055,31.0),(4.058,32.6),(4.064,30.9),(4.069,35.7),
       (4.071,34.2),(4.074,31.0),(4.079,30.3),(4.082,27.7),(4.085,29.4),(4.088,28.4),(4.094,28.4),(4.097,26.7),
       (4.098,25.3),(4.103,28.0),(4.106,31.4),(4.111,30.7),(4.114,30.2),(4.116,28.2),(4.120,28.7),(4.121,31.1),
       (4.126,30.6),(4.129,33.1),(4.132,31.1),(4.136,29.1),(4.139,27.0),(4.145,29.0),(4.149,28.0),(4.152,29.4),
       (4.158,26.9),(4.160,25.8),(4.165,25.0),(4.169,24.7),(4.173,24.7),(4.178,24.5),(4.182,25.3),(4.188,23.3),
       (4.192,22.8),(4.185,21.7),(4.194,24.4),(4.199,26.4),(4.202,23.9),(4.207,22.2),(4.208,19.9),(4.211,19.0),
       (4.215,21.4),(4.220,20.5),(4.223,23.0),(4.230,23.0),(4.233,21.4),(4.236,24.8),(4.240,24.1),(4.241,22.2),
       (4.246,20.7),(4.256,20.7),(4.249,17.8),(4.253,14.9),(4.260,22.2),(4.263,23.3),(4.267,26.8),(4.270,24.5),
       (4.159,22.7),(4.168,22.8),(4.172,22.9),(4.273,16.1),(4.277,13.3),(4.280,16.4),(4.283,20.0),(4.288,20.8),
       (4.290,21.0),(4.295,20.0),(4.296,15.9),(4.299,18.2),(4.303,19.1),(4.306,18.0),(4.311,11.7),(4.312,9.5),
       (4.316,13.8),(4.321,11.5),(4.324,10.2),(4.329,10.4),(4.335,11.3),(4.341,12.5),(4.334,12.0),(4.342,11.7),
       (4.347,9.5),(4.348,11.7),(4.351,8.6),(4.354,9.1),(4.358,14.2),(4.363,17.2),(4.364,16.7),(4.368,13.8),
       (4.376,13.5),(4.379,10.3),(4.377,8.6),(4.386,18.2),(4.387,13.5),(4.392,13.2),(4.395,11.6),(4.399,12.8),
       (4.400,17.4),(4.402,16.2),(4.405,13.9),(4.409,8.1),(4.412,13.9),(4.413,10.9),(4.418,11.7),(4.421,9.9),
       (4.425,10.2),(4.426,12.6),(4.434,14.8),(4.435,13.5),(4.441,16.4),(4.442,12.5),(4.444,9.2),(4.448,6.5),
       (4.449,5.2),
       (4.445,12.3),(4.446,9.3),(4.446,6.5),(4.453,6.0),(4.452,5.2),(4.459,7.7),(4.462,10.3),(4.465,13.3),
       (4.469,15.0),(4.472,11.4),(4.477,11.4),(4.480,9.0),(4.480,8.3),(4.485,7.6),(4.493,7.8),(4.488,4.3),
       (4.496,4.5),(4.500,6.6),(4.503,6.3),(4.507,6.1),(4.513,6.3),(4.506,4.9),(4.512,5.0),(4.519,7.7),
       (4.518,6.2),(4.525,6.1),(4.522,5.1),(4.529,7.3),(4.529,5.3),(4.535,12.2),(4.537,13.5),(4.542,13.5),
       (4.542,15.2),(4.548,15.2),(4.551,13.9),(4.557,14.0),(4.558,12.2),(4.561,8.9),(4.564,6.2),(4.567,7.7),
       (4.572,9.1),(4.576,9.1),(4.574,7.3),(4.582,7.5),(4.586,7.4),(4.589,6.4),(4.593,8.9),(4.595,4.4),
       (4.601,6.4),(4.604,5.8),(4.608,6.0),(4.611,9.0),(4.617,10.4),(4.617,9.0),(4.621,11.6),(4.624,9.0),
       (4.627,11.6),(4.630,10.9),(4.631,6.8),(4.637,7.3),(4.640,5.2),(4.643,6.8),(4.647,7.6),(4.649,8.6),
       (4.653,13.7),(4.656,12.9),(4.658,9.4),(4.664,8.7),(4.665,11.2),(4.669,10.1),(4.674,13.7),(4.680,14.1),
       (4.683,12.0),(4.687,9.3),(4.690,6.8),(4.694,5.2),(4.697,6.9),(4.700,12.9),(4.703,19.4),(4.706,16.6),
       (4.709,11.6),(4.713,10.9),(4.715,10.2),(4.720,6.8),(4.722,7.0),(4.726,10.7),(4.729,12.4),
       (4.730,13.7),(4.735,12.6),(4.738,17.0),(4.743,16.5),(4.740,15.2),(4.746,13.7),(4.749,10.3),(4.754,8.0),
       (4.757,5.1),(4.759,10.9),(4.764,10.2),(4.767,11.1),(4.771,9.4),(4.772,11.1),(4.777,11.5),(4.780,10.3),
       (4.784,6.5),(4.786,8.2),(4.790,12.3),(4.794,11.4),(4.796,9.5),(4.800,8.1),(4.803,4.8),(4.806,7.9),
       (4.810,6.8),(4.812,10.5),(4.819,10.5),(4.823,11.6),(4.828,14.5),(4.829,16.2),(4.836,18.1),(4.833,13.2),
       (4.841,14.4),(4.844,8.3),(4.848,9.8),(4.845,8.8),(4.852,12.7),(4.855,12.2),(4.858,16.1),(4.862,13.1),
       (4.867,15.0),(4.870,16.6),(4.873,13.3),(4.877,8.3),(4.877,7.1),(4.883,10.1),(4.884,13.0),(4.888,17.0),
       (4.893,17.0),(4.896,8.0),(4.900,10.3),(4.903,12.9),(4.906,10.7),(4.909,11.0),(4.912,9.3),(4.919,9.3),
       (4.925,14.1),(4.926,12.0),(4.932,9.6),(4.935,7.6),(4.939,10.9),(4.942,8.8),(4.946,7.9),(4.955,13.8),
       (4.952,12.6),(4.958,11.4),(4.962,11.9),(4.967,13.5),(4.970,12.7),(4.974,12.3),(4.978,9.1),(4.980,8.7),
       (4.986,17.7),(4.989,16.4),(4.993,18.7),(4.997,18.3)]

x_ticks = [3, 3.5, 4, 4.5, 5]
x_ticklabels = ['3', '3.5', '4', '4.5', '5']
y_ticks = [0, 10, 20, 30, 40, 50]

MAGENTA = '#990099'
RED = '#cc0000'
GREEN = '#006e00'
BLUE = '#0000cc'


def cols(pairs):
    return [p[0] for p in pairs], [p[1] for p in pairs]


fig = plt.figure(figsize=(3022 / 300, 2097 / 300), dpi=300)
fig.patch.set_facecolor('white')
# black strips along the top and left edge of the original scan
fig.patches.append(Rectangle((0, 1 - 9 / 2097), 1, 9 / 2097, transform=fig.transFigure,
                             facecolor='black', edgecolor='none', zorder=10))
fig.patches.append(Rectangle((0, 0), 21 / 3022, 1, transform=fig.transFigure,
                             facecolor='black', edgecolor='none', zorder=10))

ax = fig.add_axes([0.1436, 0.1388, 0.8001, 0.8169])

band_wl = [r[0] for r in band_rows]
core_wl = [r[0] for r in band_core]
core_base = [r[3] for r in band_core]
lw = 1.0
# (segment a, segment b, column in band_rows, core low, core high, colour)
series = [
    (strat_a, strat_b, None, [r[1] for r in band_core], [r[2] for r in band_core], MAGENTA),
    (less_a, less_b, 3, core_base, [r[6] for r in band_core], RED),
    (assumed_a, assumed_b, 2, core_base, [r[5] for r in band_core], GREEN),
    (more_a, more_b, 1, core_base, [r[4] for r in band_core], BLUE),
]
for seg_a, seg_b, col, lo, hi, color in series:
    xa, ya = cols(seg_a)
    ax.plot(xa, ya, color=color, lw=lw)
    ax.fill_between(core_wl, lo, hi, color=color, lw=0)
    xb, yb = cols(seg_b)
    if col is not None:
        xb = xb + band_wl
        yb = yb + [r[col] for r in band_rows]
    ax.plot(xb, yb, color=color, lw=lw)

ox, oy = cols(obs)
ax.plot(ox, oy, linestyle='none', marker='x', color='black', ms=3.6, mew=0.7)

ax.set_xlim(2.9, 5.0)
ax.set_ylim(0, 50)
ax.set_xticks(x_ticks)
ax.set_xticklabels(x_ticklabels)
ax.set_yticks(y_ticks)
ax.xaxis.set_minor_locator(MultipleLocator(0.1))
ax.yaxis.set_minor_locator(MultipleLocator(1))
ax.tick_params(which='both', direction='in', top=True, right=True, width=1.3, labelsize=21.8)
ax.tick_params(which='major', length=9.5)
ax.tick_params(which='minor', length=4.8)
ax.tick_params(axis='x', which='major', pad=11)
ax.tick_params(axis='y', which='major', pad=6)
for s in ax.spines.values():
    s.set_linewidth(1.4)

# IDL places the end labels inside the axis range
yt = ax.yaxis.get_major_ticks()
yt[0].label1.set_transform(yt[0].label1.get_transform() +
                           mtransforms.ScaledTranslation(0, 8 / 72, fig.dpi_scale_trans))
yt[-1].label1.set_transform(yt[-1].label1.get_transform() +
                            mtransforms.ScaledTranslation(0, -6 / 72, fig.dpi_scale_trans))

ax.set_xlabel('Wavelength (\u03bcm)', fontsize=22)
ax.xaxis.set_label_coords(0.504, -0.084)
ax.set_ylabel('Thermal Emission from Planet (mJy)', fontsize=22.3)
ax.yaxis.set_label_coords(-0.071, 0.511)

ax.text(0.0318, 0.921, 'HD 189733b', transform=ax.transAxes, fontsize=21.8, va='baseline')
ax.text(0.0318, 0.860, '(the planet)', transform=ax.transAxes, fontsize=21.8, va='baseline')
ax.text(0.0318, 0.042, 'S/N=13 per 5\u2212pixel bin per eclipse', transform=ax.transAxes,
        fontsize=19.4, va='baseline')

legend_items = [('Stratospheric absorber', MAGENTA, 0.921),
                ('Less heat transfer', RED, 0.860),
                ('Assumed model', GREEN, 0.799),
                ('More heat transfer', BLUE, 0.738)]
for label, color, ypos in legend_items:
    ax.text(0.960, ypos, label, transform=ax.transAxes, fontsize=19.5, color=color,
            ha='right', va='baseline')

fig.savefig('out.png', dpi=300)
